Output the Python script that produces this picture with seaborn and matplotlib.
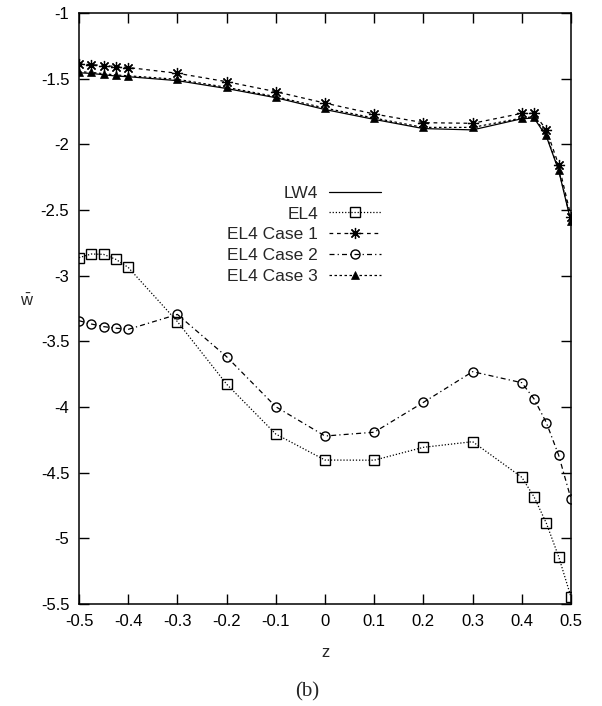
import matplotlib
matplotlib.use("Agg")
import matplotlib.pyplot as plt
import seaborn as sns
import pandas as pd

z = [-0.5, -0.475, -0.45, -0.425, -0.4, -0.3, -0.2, -0.1, 0.0, 0.1, 0.2, 0.3,
     0.4, 0.425, 0.45, 0.475, 0.5]

lw4 = [-1.455, -1.46, -1.47, -1.48, -1.485, -1.515, -1.575, -1.645, -1.735, -1.81,
       -1.88, -1.89, -1.805, -1.80, -1.94, -2.20, -2.59]
el4 = [-2.863, -2.835, -2.838, -2.876, -2.937, -3.35, -3.826, -4.206, -4.404, -4.405,
       -4.307, -4.264, -4.535, -4.685, -4.886, -5.14, -5.447]
case1 = [-1.388, -1.393, -1.40, -1.408, -1.415, -1.459, -1.523, -1.599, -1.686, -1.769,
         -1.835, -1.84, -1.764, -1.764, -1.89, -2.157, -2.55]
case2 = [-3.343, -3.368, -3.388, -3.40, -3.409, -3.295, -3.617, -3.998, -4.221, -4.192,
         -3.965, -3.731, -3.815, -3.939, -4.12, -4.368, -4.70]
case3 = [-1.447, -1.452, -1.462, -1.472, -1.478, -1.505, -1.566, -1.637, -1.724, -1.80,
         -1.871, -1.871, -1.80, -1.79, -1.929, -2.195, -2.58]

xticks = [-0.5, -0.4, -0.3, -0.2, -0.1, 0, 0.1, 0.2, 0.3, 0.4, 0.5]
xticklabels = ["-0.5", "-0.4", "-0.3", "-0.2", "-0.1", "0", "0.1", "0.2", "0.3", "0.4", "0.5"]
yticks = [-5.5, -5, -4.5, -4, -3.5, -3, -2.5, -2, -1.5, -1]
yticklabels = ["-5.5", "-5", "-4.5", "-4", "-3.5", "-3", "-2.5", "-2", "-1.5", "-1"]

sns.set_theme(style="ticks")
plt.rcParams["font.family"] = ["Liberation Sans", "DejaVu Sans"]
plt.rcParams["mathtext.fontset"] = "custom"
plt.rcParams["mathtext.rm"] = "Liberation Sans"
plt.rcParams["mathtext.it"] = "Liberation Sans:italic"

fig = plt.figure(figsize=(6.02, 7.06), dpi=100)
ax = fig.add_axes([79 / 602, 1 - 604 / 706, (571 - 79) / 602, (604 - 13) / 706])

df = pd.DataFrame({"z": z, "LW4": lw4, "EL4": el4, "EL4 Case 1": case1,
                   "EL4 Case 2": case2, "EL4 Case 3": case3})

styles = {
    "LW4": dict(linestyle="-", marker=None),
    "EL4": dict(linestyle=(0, (1, 1.5)), marker="s", markersize=6.5,
                markerfacecolor="none", markeredgewidth=1.0),
    "EL4 Case 1": dict(linestyle=(0, (3, 3)), marker=(8, 2, 0), markersize=8,
                       markeredgewidth=0.9),
    "EL4 Case 2": dict(linestyle=(0, (4, 2.5, 1, 2.5)), marker="o", markersize=6.5,
                       markerfacecolor="none", markeredgewidth=1.0),
    "EL4 Case 3": dict(linestyle=(0, (2, 2)), marker="^", markersize=6,
                       markeredgewidth=0.5),
}

for name, st in styles.items():
    kw = {k: v for k, v in st.items() if v is not None}
    sns.lineplot(data=df, x="z", y=name, ax=ax, color="black", linewidth=0.9,
                 label=name, sort=False, markeredgecolor="black", **kw)

ax.set_xlim(-0.5, 0.5)
ax.set_ylim(-5.5, -1)
ax.set_xticks(xticks)
ax.set_xticklabels(xticklabels)
ax.set_yticks(yticks)
ax.set_yticklabels(yticklabels)
ax.tick_params(direction="in", length=7, width=1, top=True, right=True,
               labelsize=12, pad=7, colors="black")
for sp in ax.spines.values():
    sp.set_visible(True)
    sp.set_linewidth(1.1)
    sp.set_color("black")

ax.set_xlabel("z", fontsize=12, labelpad=12)
ax.set_ylabel(r"$\bar{\mathrm{w}}$", fontsize=12, rotation=0)
ax.yaxis.set_label_coords(-0.106, 0.5)

leg = ax.legend(loc="upper right", bbox_to_anchor=(390 / 602, 1 - 177 / 706),
                bbox_transform=fig.transFigure, frameon=False, markerfirst=False,
                fontsize=12.5, handlelength=3.0, labelspacing=0.32,
                borderpad=0, handletextpad=0.65)

fig.text(307 / 602, 14 / 706, "(b)", ha="center", va="center", fontsize=15,
         family=["Liberation Serif", "DejaVu Serif"])

fig.savefig("out.png", dpi=100)
